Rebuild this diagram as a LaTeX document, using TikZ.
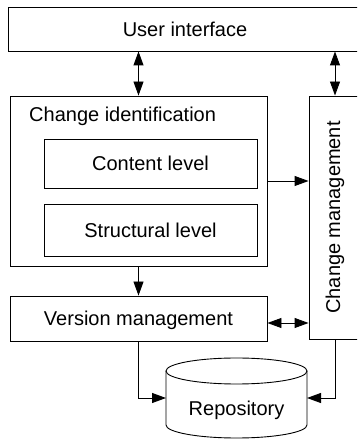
\documentclass[tikz,border=0pt]{standalone}
\usepackage{fontspec}
\setmainfont{Liberation Sans}
\usetikzlibrary{arrows.meta}
\begin{document}
\begin{tikzpicture}[x=1pt,y=1pt,
  frame/.style={draw, line width=0.9pt, inner sep=0pt, font=\fontsize{20}{24}\selectfont},
  box/.style={frame, text height=14.3pt, text depth=0pt},
  caption/.style={inner sep=0pt, font=\fontsize{20}{24}\selectfont},
  tip/.tip={Triangle[length=14pt,width=10pt]},
  link/.style={line width=0.9pt, -tip},
  dlink/.style={line width=0.9pt, tip-tip},
  ]
\clip (0,0) rectangle (357,441);

% boxes
\node[box, minimum width=354pt, minimum height=44pt] (ui) at (185,412) {User interface};
\node[frame, minimum width=257pt, minimum height=170pt] (ci) at (138.5,260) {};
\node[caption, anchor=base west] (citext) at (29,319) {Change identification};
\node[box, minimum width=213pt, minimum height=49pt] (content) at (150.5,277.5) {Content level};
\node[box, minimum width=213pt, minimum height=52pt] (struct) at (150.5,211) {Structural level};
\node[box, minimum width=257pt, minimum height=45pt] (vm) at (138.5,122.5) {Version management};
\node[frame, minimum width=52pt, minimum height=243pt] (cm) at (335,223.5) {\rotatebox{90}{Change management}};

% repository drum
\node[caption, outer sep=0pt, minimum width=141pt, minimum height=80pt,
      text height=36pt, text depth=0pt] (repo) at (236.5,43) {Repository};
\draw[line width=0.9pt] ([yshift=-13pt]repo.north) ellipse [x radius=70.5pt, y radius=13pt];
\draw[line width=0.9pt] ([yshift=-13pt]repo.north west) -- ([yshift=13pt]repo.south west)
  arc[start angle=180, end angle=360, x radius=70.5pt, y radius=13pt]
  -- ([yshift=-13pt]repo.north east);

% connectors
\draw[dlink] (ci.north) -- (ci.north |- ui.south);
\draw[dlink] (cm.north) -- (cm.north |- ui.south);
\draw[link] (ci.east) -- (ci.east -| cm.west);
\draw[link] (ci.south) -- (vm.north);
\coordinate (vmcm) at (288,118);
\draw[dlink] (vm.east |- vmcm) -- (cm.west |- vmcm);
\draw[link] (vm.south) |- (repo.west);
\draw[link] (cm.south) |- (repo.east);
\end{tikzpicture}
\end{document}
